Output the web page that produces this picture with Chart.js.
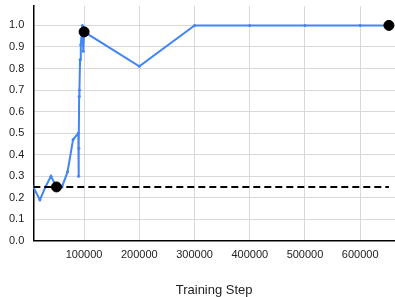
<!DOCTYPE html>
<html>
<head>
<meta charset="utf-8">
<script src="https://cdn.jsdelivr.net/npm/chart.js@4.4.1/dist/chart.umd.min.js"></script>
<style>
  html, body { margin: 0; padding: 0; background: #fff; }
  #wrap { width: 395px; height: 297px; position: relative; }
</style>
</head>
<body>
<div id="wrap"><canvas id="chart"></canvas></div>
<script>
const steps = [8000, 20000, 30000, 40000, 50000, 60000, 70000, 80000, 89500, 90000, 90500, 91000, 91500, 92700, 94000, 97000, 98500, 100000, 200000, 300000, 400000, 500000, 600000, 652000];
const accuracy = [0.25, 0.19, 0.25, 0.30, 0.25, 0.25, 0.32, 0.47, 0.50, 0.30, 0.43, 0.67, 0.70, 0.84, 0.91, 1.0, 0.88, 0.97, 0.81, 1.0, 1.0, 1.0, 1.0, 1.0];
const markSteps = [50000, 100000, 652000];
const markValues = [0.25, 0.97, 1.0];
const baselineSteps = [8000, 652000];
const baselineValues = [0.25, 0.25];
const xTicks = [100000, 200000, 300000, 400000, 500000, 600000];
const yTicks = [0, 0.1, 0.2, 0.3, 0.4, 0.5, 0.6, 0.7, 0.8, 0.9, 1.0];

const toPoints = (xs, ys) => xs.map((x, i) => ({ x: x, y: ys[i] }));

const ctx = document.getElementById('chart').getContext('2d');
new Chart(ctx, {
  type: 'line',
  data: {
    datasets: [
      {
        data: toPoints(markSteps, markValues),
        showLine: false,
        pointRadius: 5,
        pointBackgroundColor: '#000',
        pointBorderColor: '#000',
        clip: false
      },
      {
        data: toPoints(baselineSteps, baselineValues),
        borderColor: '#000',
        borderWidth: 2,
        borderDash: [7, 4],
        pointRadius: 0
      },
      {
        data: toPoints(steps, accuracy),
        borderColor: '#4285F4',
        backgroundColor: '#4285F4',
        borderWidth: 2,
        pointRadius: 1.5,
        pointBorderWidth: 0,
        tension: 0
      }
    ]
  },
  options: {
    responsive: true,
    maintainAspectRatio: false,
    animation: false,
    layout: { autoPadding: false, padding: { left: 0, top: 0, right: 0, bottom: 0 } },
    plugins: {
      legend: { display: false },
      tooltip: { enabled: false }
    },
    scales: {
      x: {
        type: 'linear',
        min: 8000,
        max: 663000,
        afterBuildTicks: axis => { axis.ticks = xTicks.map(v => ({ value: v })); },
        grid: { color: '#d9d9d9', drawTicks: false },
        border: { color: '#000', width: 1.5 },
        ticks: {
          color: '#222',
          padding: 8,
          maxRotation: 0,
          font: { family: 'Arial, "Liberation Sans"', size: 11 },
          callback: v => String(v)
        },
        title: {
          display: true,
          text: 'Training Step',
          color: '#222',
          font: { family: 'Arial, "Liberation Sans"', size: 13, lineHeight: 1 },
          padding: { top: 14, bottom: 0 }
        }
      },
      y: {
        min: 0,
        max: 1.09,
        afterBuildTicks: axis => { axis.ticks = yTicks.map(v => ({ value: v })); },
        afterFit: axis => { axis.paddingTop = 6; axis.paddingBottom = 6; },
        grid: { color: '#d9d9d9', drawTicks: false },
        border: { color: '#000', width: 1.5 },
        ticks: {
          color: '#222',
          padding: 9,
          font: { family: 'Arial, "Liberation Sans"', size: 11 },
          callback: v => v.toFixed(1)
        }
      }
    }
  }
});
</script>
</body>
</html>
